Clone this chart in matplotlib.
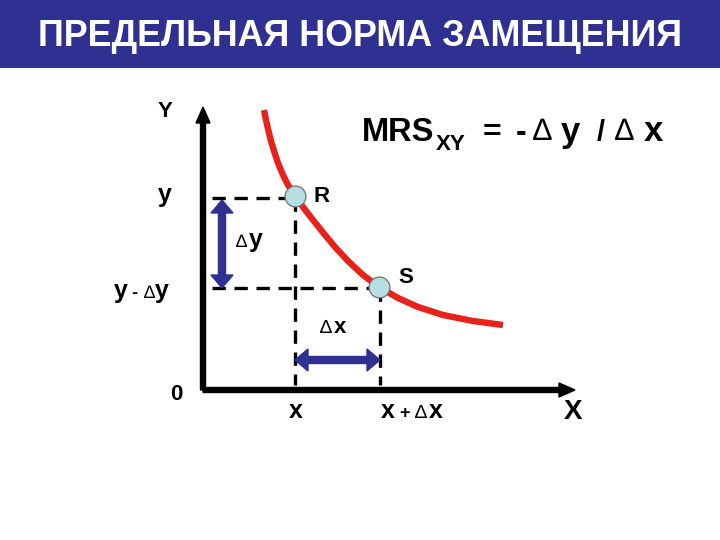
import matplotlib
matplotlib.use("Agg")
import matplotlib.pyplot as plt
from matplotlib.patches import Rectangle

plt.rcParams['font.family'] = ['Liberation Sans', 'DejaVu Sans']

# ---- data (diagram units: origin at axes corner, 1 unit ~ 1 px) ----
title = "ПРЕДЕЛЬНАЯ НОРМА ЗАМЕЩЕНИЯ"
curve_x = [61, 63, 65, 68, 71, 75, 80, 85, 92, 100, 110, 120, 132, 145, 160, 176,
           195, 215, 240, 270, 300]
curve_y = [280, 270, 261, 249, 239, 227, 215, 205, 194, 183, 170, 157.5, 143, 129, 115, 103,
           92, 83, 75, 69, 65]
point_names = ["R", "S"]
point_x = [92, 176]
point_y = [194, 103]
y_axis_top = 283
x_axis_end = 372
dash_start = 9
dy_arrow_x = 19
dx_arrow_y = 30

BLUE = "#2E3192"
RED = "#E8211B"

fig = plt.figure(figsize=(7.2, 5.4), dpi=100)
ax = fig.add_axes([0, 0, 1, 1])
ax.set_xlim(-203, 517)
ax.set_ylim(-150, 390)
ax.axis('off')

def P(px, py):
    return px - 203, 390 - py

# banner
bx, by = P(0, 68)
ax.add_patch(Rectangle((bx, by), 720, 68, facecolor=BLUE, edgecolor='none', zorder=0))
tx, ty = P(360, 36)
ax.text(tx, ty, title, color='white', fontsize=25.8, fontweight='bold',
        ha='center', va='center', zorder=5)

# axes arrows
ax.arrow(0, 0, 0, y_axis_top, width=5, head_width=14, head_length=16,
         length_includes_head=True, color='black', zorder=3)
ax.arrow(0, 0, x_axis_end, 0, width=5, head_width=14, head_length=16,
         length_includes_head=True, color='black', zorder=3)

# dashed guides
dash = dict(color='black', lw=2.4, dashes=(4.0, 2.6), zorder=2, solid_capstyle='butt')
ax.plot([dash_start, point_x[0]], [point_y[0] - 2, point_y[0] - 2], **dash)
ax.plot([dash_start, point_x[1]], [point_y[1] - 1, point_y[1] - 1], **dash)
ax.plot([point_x[0], point_x[0]], [point_y[0] - 2, 5], **dash)
ax.plot([point_x[1] + 1, point_x[1] + 1], [point_y[1] - 1, 5], **dash)

# curve
ax.plot(curve_x, curve_y, color=RED, lw=4.6, solid_capstyle='butt',
        solid_joinstyle='round', zorder=4)

# points
ax.plot(point_x, point_y, 'o', ms=15, mfc='#B8DDE2', mec='#707070', mew=0.9, zorder=6)

# blue double arrows
ys, ye = point_y[0] - 4, point_y[1] - 1
mid = (ys + ye) / 2
for end in (ys, ye):
    ax.arrow(dy_arrow_x, mid, 0, end - mid, width=7, head_width=22, head_length=13,
             length_includes_head=True, color=BLUE, zorder=3)
xs, xe = point_x[0], point_x[1] + 1
midx = (xs + xe) / 2
for end in (xs, xe):
    ax.arrow(midx, dx_arrow_y, end - midx, 0, width=7, head_width=22, head_length=13,
             length_includes_head=True, color=BLUE, zorder=3)

fig.canvas.draw()
renderer = fig.canvas.get_renderer()

def seq(px, py, parts, ha='left'):
    """parts: list of (text, weight, size); py baseline in px."""
    texts = []
    widths = []
    for s, w, fs in parts:
        t = ax.text(0, 0, s, fontweight=w, fontsize=fs, va='baseline', ha='left', zorder=7)
        bb = t.get_window_extent(renderer)
        texts.append(t)
        widths.append(bb.width)
    total = sum(widths)
    start = px if ha == 'left' else px - total / 2
    x0, y0 = P(start, py)
    cur = x0
    for t, w in zip(texts, widths):
        t.set_position((cur, y0))
        cur += w

def lab(px, py, s, fs=14, ha='center'):
    x, y = P(px, py)
    ax.text(x, y, s, fontsize=fs, fontweight='bold', ha=ha, va='baseline', zorder=7)

lab(165, 117, "Y", 16)
lab(165, 202, "y", 18)
lab(176, 400, "0", 16)
lab(296, 418, "x", 18)
lab(573, 419, "X", 20)
lab(322, 202, point_names[0], 16)
lab(406, 283, point_names[1], 16)

seq(141, 298, [("y", 'bold', 18), (" - ", 'bold', 13), ("∆", 'normal', 13), ("y", 'bold', 18)], ha='center')
seq(249, 247, [("∆", 'normal', 13), (" ", 'normal', 5), ("y", 'bold', 18)], ha='center')
seq(333, 333, [("∆", 'normal', 14), (" ", 'normal', 5), ("x", 'bold', 16)], ha='center')
seq(412, 418, [("x", 'bold', 18), (" + ", 'bold', 13), ("∆", 'normal', 14), (" ", 'normal', 5), ("x", 'bold', 18)], ha='center')

def piece(px, py, s, fs, w='bold'):
    x, y = P(px, py)
    ax.text(x, y, s, fontsize=fs, fontweight=w, ha='left', va='baseline', zorder=7)

piece(362, 141, "MRS", 23.5)
piece(436, 150, "XY", 16)
piece(483, 141, "=", 23)
piece(516, 141, "-", 23)
piece(533, 140, "∆", 22, 'normal')
piece(561, 142, "y", 25)
piece(597, 141, "/", 21)
piece(615, 140, "∆", 22, 'normal')
piece(644, 141, "x", 25)

fig.savefig("out.png", dpi=100)
